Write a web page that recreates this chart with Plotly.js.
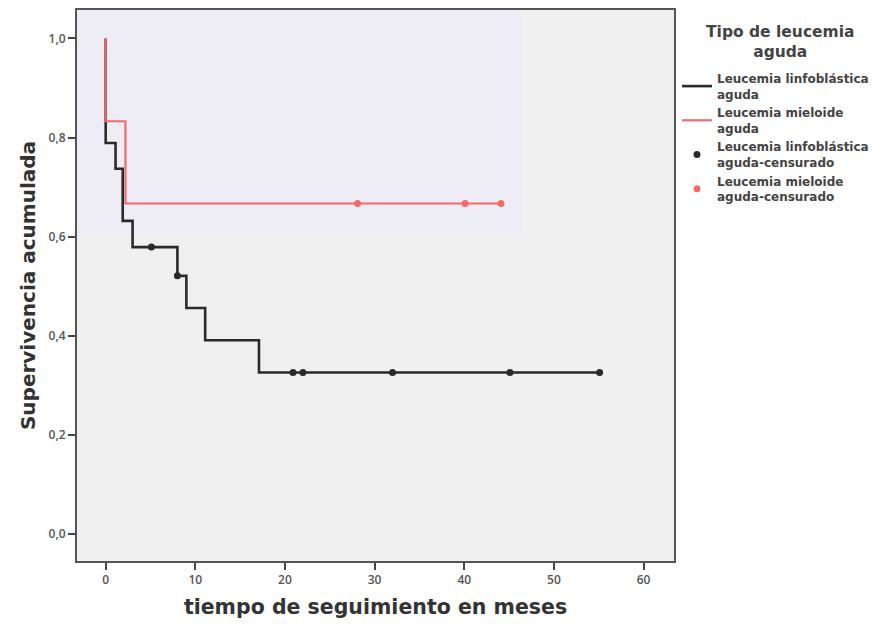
<!DOCTYPE html>
<html>
<head>
<meta charset="utf-8">
<script src="https://cdn.plot.ly/plotly-3.0.1.min.js"></script>
<style>html,body{margin:0;padding:0;background:#fff;}#chart{width:879px;height:631px;}</style>
</head>
<body>
<div id="chart"></div>
<script>
// Leucemia linfoblástica aguda (LLA): event times and survival after each step
const llaTimes = [0, 0, 1.1, 1.9, 3.0, 8.0, 9.0, 11.1, 17.1, 55.1];
const llaSurv  = [1.0, 0.789, 0.737, 0.632, 0.579, 0.521, 0.456, 0.391, 0.326, 0.326];
const llaCensTimes = [5.1, 8.0, 20.9, 22.0, 32.0, 45.1, 55.1];
const llaCensSurv  = [0.579, 0.521, 0.326, 0.326, 0.326, 0.326, 0.326];

// Leucemia mieloide aguda (LMA)
const lmaTimes = [0, 0, 2.2, 44.1];
const lmaSurv  = [1.0, 0.833, 0.667, 0.667];
const lmaCensTimes = [28.1, 40.1, 44.1];
const lmaCensSurv  = [0.667, 0.667, 0.667];

const legendTitle = "Tipo de leucemia<br>aguda";
const seriesNames = [
  "Leucemia linfoblástica<br>aguda",
  "Leucemia mieloide<br>aguda",
  "Leucemia linfoblástica<br>aguda-censurado",
  "Leucemia mieloide<br>aguda-censurado"
];
const yTickVals = [0, 0.2, 0.4, 0.6, 0.8, 1.0];
const yTickText = ["0,0", "0,2", "0,4", "0,6", "0,8", "1,0"];
const xTickVals = [0, 10, 20, 30, 40, 50, 60];

const BLACK = "#2a2a2a";
const RED = "#f46a6a";
const FONT = "Open Sans, Noto Sans, sans-serif";
const BOLDFONT = "DejaVu Sans, sans-serif";

const traces = [
  {x: llaTimes, y: llaSurv, type: "scatter", mode: "lines", line: {shape: "hv", color: BLACK, width: 2.6}, name: seriesNames[0]},
  {x: lmaTimes, y: lmaSurv, type: "scatter", mode: "lines", line: {shape: "hv", color: RED, width: 2.2}, name: seriesNames[1]},
  {x: llaCensTimes, y: llaCensSurv, type: "scatter", mode: "markers", marker: {symbol: "circle", size: 7, color: BLACK}, name: seriesNames[2]},
  {x: lmaCensTimes, y: lmaCensSurv, type: "scatter", mode: "markers", marker: {symbol: "circle", size: 7, color: RED}, name: seriesNames[3]}
];

const layout = {
  width: 879, height: 631,
  margin: {l: 77, r: 205, t: 10, b: 70, pad: 0, autoexpand: false},
  paper_bgcolor: "#ffffff",
  plot_bgcolor: "#f0f0f0",
  font: {family: FONT, color: "#444"},
  showlegend: true,
  legend: {
    x: 1.005, y: 0.902, xanchor: "left", yanchor: "top",
    bgcolor: "rgba(0,0,0,0)",
    font: {family: BOLDFONT, size: 12, color: "#444", weight: 700},
    itemwidth: 30, tracegroupgap: 2, traceorder: "normal"
  },
  annotations: [
    {text: legendTitle, xref: "paper", yref: "paper", x: 1.1776, y: 0.942, xanchor: "center", yanchor: "middle",
     align: "center", showarrow: false, font: {family: BOLDFONT, size: 15.5, color: "#444", weight: 700}}
  ],
  xaxis: {
    range: [-3.2, 63.4], tickvals: xTickVals, ticks: "outside", ticklen: 7, tickwidth: 2, tickcolor: "#444",
    showline: true, linecolor: "#555", linewidth: 2, mirror: true, showgrid: false, zeroline: false,
    tickfont: {family: FONT, size: 12, color: "#555", weight: 600},
    title: {text: "tiempo de seguimiento en meses", standoff: 12, font: {family: BOLDFONT, size: 20.5, color: "#333", weight: 700}}
  },
  yaxis: {
    range: [-0.0544, 1.0575], tickvals: yTickVals, ticktext: yTickText, ticks: "outside", ticklen: 7, tickwidth: 2, tickcolor: "#444",
    showline: true, linecolor: "#555", linewidth: 2, mirror: true, showgrid: false, zeroline: false,
    tickfont: {family: FONT, size: 12, color: "#555", weight: 600},
    title: {text: "Supervivencia acumulada", standoff: 8, font: {family: BOLDFONT, size: 20, color: "#333", weight: 700}}
  },
  shapes: [
    {type: "rect", xref: "paper", yref: "paper", x0: 0, x1: 0.745, y0: 0.591, y1: 1, fillcolor: "#eeedf5", line: {width: 0}, layer: "below"}
  ]
};

Plotly.newPlot("chart", traces, layout, {displayModeBar: false, staticPlot: true});
</script>
</body>
</html>
